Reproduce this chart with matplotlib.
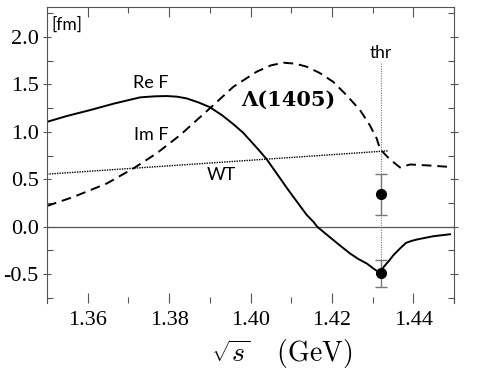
import matplotlib
matplotlib.use('Agg')
import matplotlib.pyplot as plt
from matplotlib.ticker import MultipleLocator

plt.rcParams['mathtext.fontset'] = 'cm'
plt.rcParams['font.family'] = ['Liberation Serif', 'DejaVu Serif']

# Re F (solid)
re_x = [1.3500, 1.3550, 1.3606, 1.3665, 1.3729, 1.3765, 1.3794, 1.3820, 1.3843,
        1.3872, 1.3900, 1.3930, 1.3958, 1.3982, 1.4000, 1.4020, 1.4040, 1.4072,
        1.4089, 1.4113, 1.4138, 1.4154, 1.4164, 1.4185, 1.4204, 1.4225, 1.4245,
        1.4265, 1.4286, 1.4302, 1.4318,
        1.4327, 1.4340, 1.4351, 1.4367, 1.4382, 1.4395, 1.4408, 1.4430, 1.4449, 1.4490]
re_y = [1.105, 1.168, 1.229, 1.298, 1.363, 1.374, 1.377, 1.370, 1.352,
        1.310, 1.260, 1.175, 1.080, 0.990, 0.905, 0.810, 0.710, 0.515,
        0.410, 0.270, 0.125, 0.055, 0.000, -0.075, -0.142, -0.215, -0.283,
        -0.340, -0.388, -0.440, -0.487,
        -0.424, -0.360, -0.300, -0.230, -0.170, -0.150, -0.135, -0.116, -0.100, -0.079]

# Im F (dashed)
im_x = [1.3500, 1.3565, 1.3647, 1.3712, 1.3769, 1.3827, 1.3900, 1.3958, 1.4015,
        1.4050, 1.4081, 1.4110, 1.4138, 1.4170, 1.4203, 1.4235, 1.4269, 1.4293,
        1.4310, 1.4318, 1.4340, 1.4367, 1.4392, 1.4440, 1.4490]
im_y = [0.219, 0.314, 0.456, 0.614, 0.772, 0.965, 1.247, 1.475, 1.633,
        1.700, 1.728, 1.718, 1.686, 1.620, 1.527, 1.390, 1.229, 1.070,
        0.930, 0.820, 0.720, 0.625, 0.656, 0.645, 0.630]

# Weinberg-Tomozawa (dotted)
wt_x = [1.3500, 1.4339]
wt_y = [0.554, 0.800]

thr = 1.432
pts_y = [0.343, -0.490]
pts_lo = [0.223, 0.145]
pts_hi = [0.217, 0.137]

fig = plt.figure(figsize=(4.91, 3.82), dpi=100)
ax = fig.add_axes([0.0957, 0.2076, 0.829, 0.7741])

ax.axhline(0, color='#555555', lw=0.9, zorder=1)
ax.plot([thr, thr], [1.73, -0.35], color='#777777', lw=0.8, ls=(0, (1, 1.2)), zorder=1)

ax.plot(re_x, re_y, color='black', lw=1.4)
ax.plot(im_x, im_y, color='black', lw=1.4, ls=(0, (5, 3)))
ax.plot(wt_x, wt_y, color='black', lw=1.0, ls=(0, (1, 0.8)))

ax.errorbar([thr, thr], pts_y, yerr=[pts_lo, pts_hi], fmt='o', color='black',
            ms=7, ecolor='#777777', elinewidth=1.0, capsize=4, capthick=1.0, zorder=3)

ax.set_xlim(1.35, 1.45)
ax.set_ylim(-0.80, 2.315)

ax.xaxis.set_major_locator(MultipleLocator(0.02))
ax.xaxis.set_minor_locator(MultipleLocator(0.01))
ax.yaxis.set_major_locator(MultipleLocator(0.5))
ax.yaxis.set_minor_locator(MultipleLocator(0.25))
ax.tick_params(which='both', direction='in', top=True, right=True, color='#555555', width=0.8)
ax.tick_params(which='major', length=7)
ax.tick_params(which='minor', length=4)
ax.tick_params(axis='y', which='major', direction='inout', length=6)
ax.spines['bottom'].set_visible(False)
for s in ['left', 'right', 'top']:
    ax.spines[s].set_color('#555555')
    ax.spines[s].set_linewidth(0.8)

ax.set_xticks([1.36, 1.38, 1.40, 1.42, 1.44])
ax.set_xticklabels(['1.36', '1.38', '1.40', '1.42', '1.44'])
ax.set_yticks([-0.5, 0.0, 0.5, 1.0, 1.5, 2.0])
ax.set_yticklabels(['-0.5', '0.0', '0.5', '1.0', '1.5', '2.0'])
ax.tick_params(labelsize=16, labelfontfamily='Liberation Serif')
ax.tick_params(axis='x', pad=6)
ax.tick_params(axis='y', pad=3)

ax.set_xlabel(r'$\sqrt{s}\quad\,(\mathrm{GeV})$', fontsize=20, x=0.578, labelpad=5)

sans = ['Lato', 'DejaVu Sans']
ax.text(1.3755, 1.519, 'Re F', fontsize=13, family=sans, ha='center', va='center')
ax.text(1.3755, 0.967, 'Im F', fontsize=13, family=sans, ha='center', va='center')
ax.text(1.3929, 0.543, 'WT', fontsize=13, family=sans, ha='center', va='center')
ax.text(thr, 1.835, 'thr', fontsize=12.5, family=sans, ha='center', va='center')
ax.text(1.355, 2.125, '[fm]', fontsize=12.5, family=sans, ha='center', va='center')
ax.text(1.4093, 1.334, 'Λ(1405)', fontsize=15, family=['DejaVu Serif'],
        weight='bold', ha='center', va='center')

fig.savefig('out.png', dpi=100)
